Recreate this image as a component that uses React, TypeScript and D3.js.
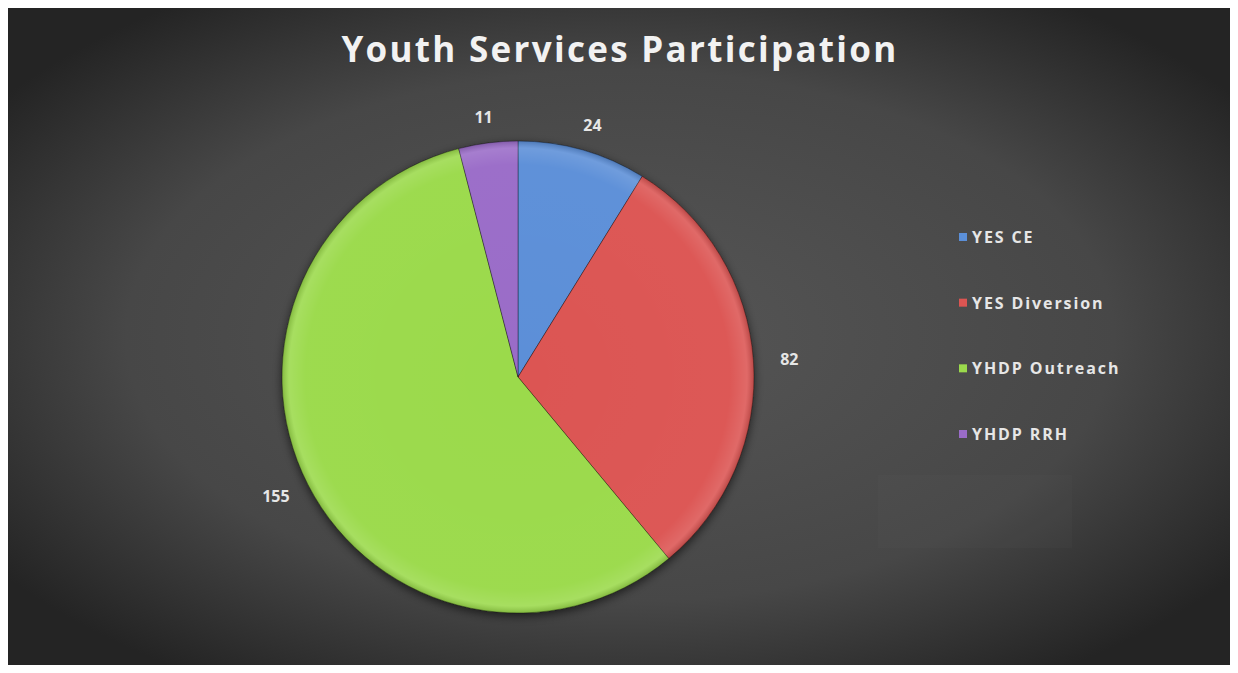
import React from "react";
import * as d3 from "d3";

const categories = ["YES CE", "YES Diversion", "YHDP Outreach", "YHDP RRH"];
const values = [24, 82, 155, 11];
const colors = ["#5b8fd8", "#dc5552", "#9bda4c", "#9a6cc8"];
const title = "Youth Services Participation";

const W = 1238;
const H = 673;

export default function App() {
  const cx = 518;
  const cy = 377;
  const r = 236;
  const pie = d3.pie<number>().sort(null).value((d) => d)(values);
  const arc = d3.arc<d3.PieArcDatum<number>>().innerRadius(0).outerRadius(r);

  const legendY = d3.scalePoint<string>().domain(categories).range([237, 434]);

  return (
    <div style={{ margin: -8 }}>
      <svg width={W} height={H} style={{ display: "block", background: "#fff" }}>
        <defs>
          <radialGradient id="bg" cx="50%" cy="50%" r="62%">
            <stop offset="0%" stopColor="#565656" />
            <stop offset="65%" stopColor="#474747" />
            <stop offset="100%" stopColor="#242424" />
          </radialGradient>
          <radialGradient id="shine" cx="0" cy="0" r={r} gradientUnits="userSpaceOnUse">
            <stop offset="0%" stopColor="#fff" stopOpacity="0" />
            <stop offset="90%" stopColor="#fff" stopOpacity="0.02" />
            <stop offset="97%" stopColor="#fff" stopOpacity="0.12" />
            <stop offset="100%" stopColor="#000" stopOpacity="0.15" />
          </radialGradient>
          <filter id="shadow" x="-20%" y="-20%" width="140%" height="140%">
            <feGaussianBlur in="SourceAlpha" stdDeviation="5" />
            <feOffset dx="0" dy="3" result="b" />
            <feFlood floodColor="#000" floodOpacity="0.6" />
            <feComposite in2="b" operator="in" />
            <feMerge>
              <feMergeNode />
              <feMergeNode in="SourceGraphic" />
            </feMerge>
          </filter>
        </defs>
        <rect x={7} y={6} width={1226} height={660} fill="url(#bg)" />
        <rect x={878} y={475} width={194} height={73} fill="#fff" opacity={0.015} />
        <text
          x={620}
          y={62}
          textAnchor="middle"
          fill="#f2f2f2"
          fontFamily="'Open Sans', sans-serif"
          fontWeight="bold"
          fontSize={35}
          letterSpacing={2.3}
        >
          {title}
        </text>
        <g transform={`translate(${cx},${cy})`}>
          <g filter="url(#shadow)">
            {pie.map((p, i) => (
              <path key={i} d={arc(p) || ""} fill={colors[i]} stroke="rgba(0,0,0,0.35)" strokeWidth={1} />
            ))}
          </g>
          {pie.map((p, i) => (
            <path key={"s" + i} d={arc(p) || ""} fill="url(#shine)" />
          ))}
          {pie.map((p, i) => {
            const a = (p.startAngle + p.endAngle) / 2;
            const s = Math.sin(a);
            const c = Math.cos(a);
            const lr = r + 20;
            const x = lr * s + s * 16;
            const y = -lr * c - c * 6;
            return (
              <text
                key={"l" + i}
                x={x}
                y={y}
                textAnchor="middle"
                dominantBaseline="central"
                fill="#e6e6e6"
                fontFamily="'Open Sans', sans-serif"
                fontWeight="bold"
                fontSize={16}
              >
                {values[i]}
              </text>
            );
          })}
        </g>
        {categories.map((c, i) => {
          const y = legendY(c) || 0;
          return (
            <g key={c}>
              <rect x={959} y={y - 4} width={8} height={8} fill={colors[i]} />
              <text
                x={972}
                y={y}
                dominantBaseline="central"
                fill="#e6e6e6"
                fontFamily="'Open Sans', sans-serif"
                fontWeight="bold"
                fontSize={16}
                letterSpacing={1.9}
              >
                {c}
              </text>
            </g>
          );
        })}
      </svg>
    </div>
  );
}
